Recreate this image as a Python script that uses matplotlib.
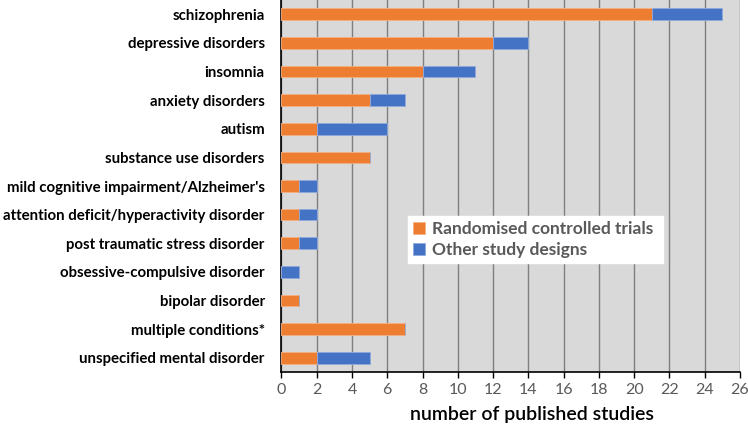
import matplotlib
matplotlib.use("Agg")
import matplotlib.pyplot as plt
import numpy as np

categories = ["schizophrenia", "depressive disorders", "insomnia", "anxiety disorders",
              "autism", "substance use disorders", "mild cognitive impairment/Alzheimer's",
              "attention deficit/hyperactivity disorder", "post traumatic stress disorder",
              "obsessive-compulsive disorder", "bipolar disorder", "multiple conditions*",
              "unspecified mental disorder"]
rct = [21, 12, 8, 5, 2, 5, 1, 1, 1, 0, 1, 7, 2]
other = [4, 2, 3, 2, 4, 0, 1, 1, 1, 1, 0, 0, 3]
xticks = list(range(0, 27, 2))
series_names = ["Randomised controlled trials", "Other study designs"]

plt.rcParams['font.family'] = ['Lato', 'DejaVu Sans']

fig = plt.figure(figsize=(7.48, 4.24), dpi=100)
ax = fig.add_axes([0.3763, 0.1226, 0.613, 0.8774])
ax.set_facecolor("#D9D9D9")

y = np.arange(len(categories))
h = 0.41
ax.barh(y, rct, height=h, color="#ED7D31", edgecolor="#F4B183", linewidth=0.6,
        label=series_names[0], zorder=3)
ax.barh(y, other, left=rct, height=h, color="#4472C4", edgecolor="#8FAADC", linewidth=0.6,
        label=series_names[1], zorder=3)

ax.set_ylim(len(categories) - 0.5, -0.5)
ax.set_xlim(0, 26)
ax.set_xticks(xticks)
ax.set_xticklabels([str(t) for t in xticks], color="#595959", fontsize=11.5)
ax.set_yticks(y)
ax.set_yticklabels(categories, fontsize=10.8, fontweight="bold", color="black")
ax.tick_params(axis="y", length=0, pad=12)
ax.tick_params(axis="x", direction="out", length=4, color="black", width=1, pad=4)

ax.xaxis.grid(True, color="#7F7F7F", linewidth=1, zorder=1)
ax.set_axisbelow(True)
for s in ["top", "right"]:
    ax.spines[s].set_visible(False)
ax.spines["left"].set_color("black")
ax.spines["bottom"].set_color("black")
ax.spines["left"].set_linewidth(1.2)
ax.spines["bottom"].set_linewidth(1.2)

ax.set_xlabel("number of published studies", fontsize=14, fontweight="semibold")
ax.xaxis.set_label_coords(0.546, -0.091)

leg = ax.legend(loc="lower left", bbox_to_anchor=(0.276, 0.293, 0.556, 0.132), mode="expand",
                borderaxespad=0,
                frameon=True, fancybox=False, framealpha=1, edgecolor="white",
                handlelength=0.7, handleheight=0.7, handletextpad=0.4, borderpad=0.3,
                labelspacing=0.25, prop={"size": 12.5, "weight": "bold"})
for t in leg.get_texts():
    t.set_color("#595959")

fig.savefig("out.png", dpi=100, facecolor="white")
